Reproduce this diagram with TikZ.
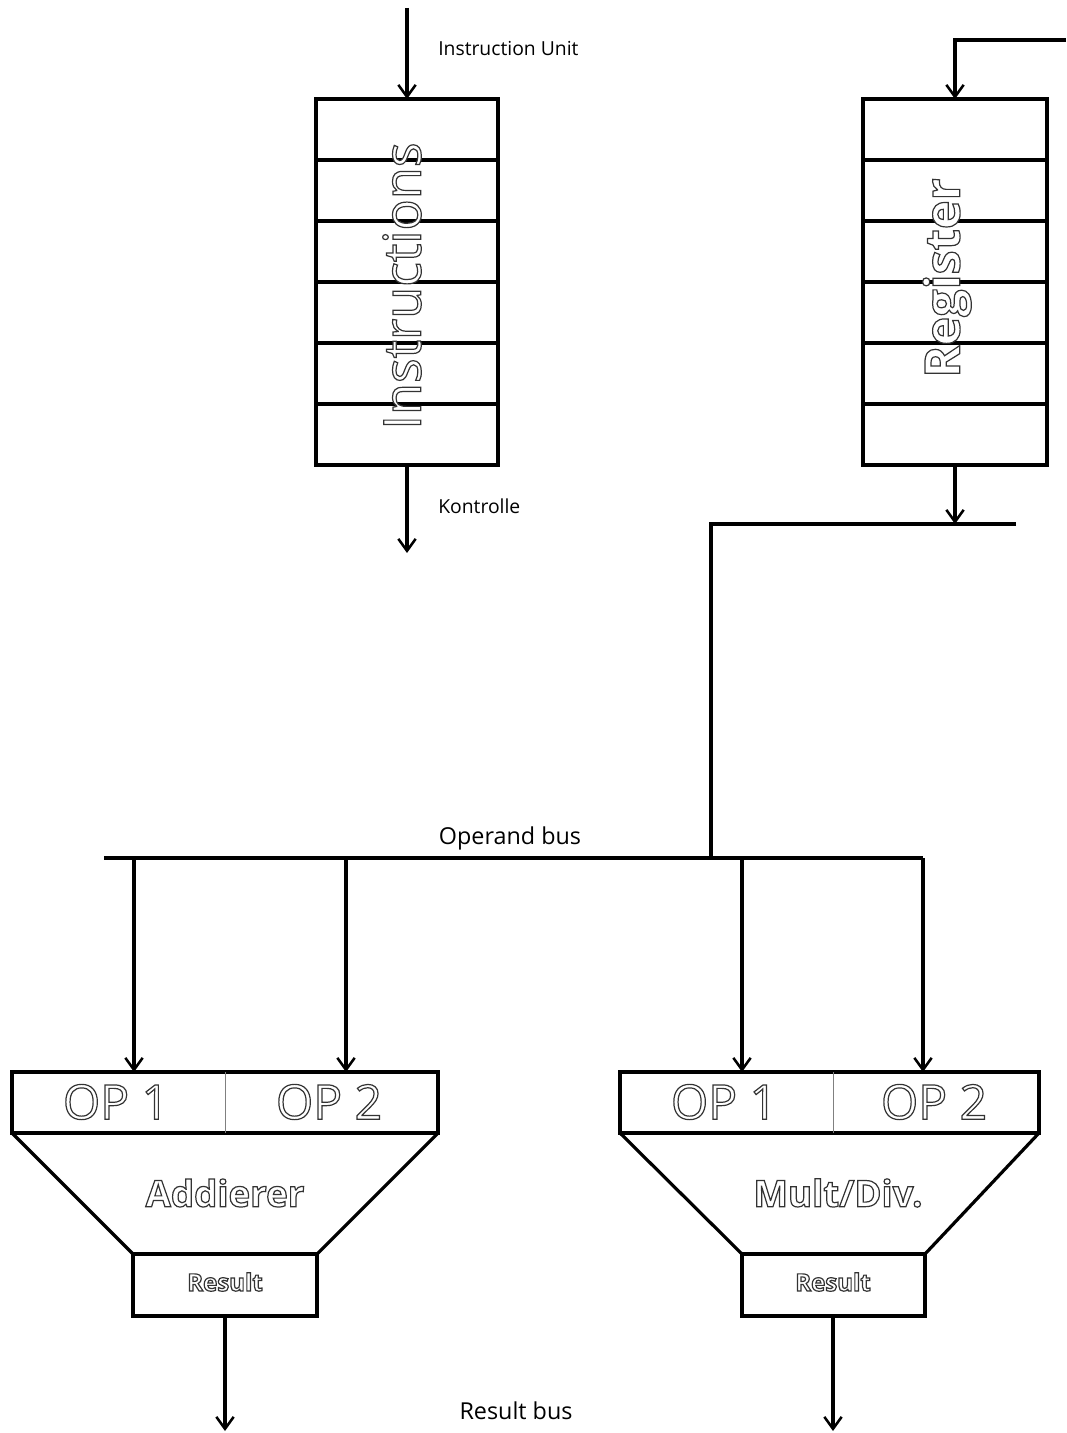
\documentclass[tikz,border=0pt]{standalone}
\usepackage{fontspec}
\setmainfont{Open Sans}
\usetikzlibrary{arrows.meta}
\newcommand{\outl}[1]{\special{pdf:literal direct 2 Tr 0.9 w 1 g 0.2 G}#1\special{pdf:literal direct 0 Tr 0 g 0 G}}
\tikzset{
  px/.style={x=0.75pt,y=-0.75pt},
  wire/.style={line width=2.4pt,line cap=butt},
  arr/.style={wire,-{Straight Barb[length=9pt,width=13pt,line width=1.9pt]}},
  box/.style={line width=2.4pt},
  lbl/.style={font=\fontsize{14.5}{16}\selectfont,anchor=west,inner sep=0pt},
  buslbl/.style={font=\fontsize{17.5}{19}\selectfont,inner sep=0pt},
  big/.style={font=\fontsize{39}{40}\selectfont,inner sep=0pt},
  bigb/.style={font=\fontsize{36.5}{38}\bfseries\selectfont,inner sep=0pt},
  opt/.style={font=\fontsize{36}{38}\selectfont,inner sep=0pt},
  unitt/.style={font=\fontsize{27.5}{30}\bfseries\selectfont,inner sep=0pt},
  rest/.style={font=\fontsize{18}{20}\bfseries\selectfont,inner sep=0pt},
}
\begin{document}
\begin{tikzpicture}[px]
\useasboundingbox (0,0) rectangle (1066,1433);
% instruction queue
\foreach \i in {0,...,5} {
  \draw[box] (316,{99+61*\i}) rectangle (498,{99+61*(\i+1)});
}
\coordinate (iqtop) at (407,99);
\coordinate (iqbot) at (407,465);
\coordinate (iin) at (407,8);
\coordinate (iout) at (407,553);
\draw[arr] (iin) -- (iqtop);
\draw[arr] (iqbot) -- (iout);
\node[lbl] (liu) at (438,49) {Instruction Unit};
\node[lbl] (lk) at (438,506) {Kontrolle};
\node[big,rotate=90] (tinstr) at (402,286) {\outl{Instructions}};
% register
\foreach \i in {0,...,5} {
  \draw[box] (863,{99+61*\i}) rectangle (1047,{99+61*(\i+1)});
}
\coordinate (rtop) at (955,99);
\coordinate (rbot) at (955,465);
\coordinate (rin) at (1066,40);
\coordinate (rinc) at (955,40);
\draw[arr] (rin) -- (rinc) -- (rtop);
\node[bigb,rotate=90] (treg) at (947,278) {\outl{Register}};
\coordinate (rbus) at (955,524);
\coordinate (rbusr) at (1016,524);
\coordinate (rbusl) at (711,524);
\coordinate (obj) at (711,858);
\draw[arr] (rbot) -- (rbus);
\draw[wire] (rbusr) -- (rbusl) -- (obj);
% operand bus
\coordinate (obl) at (104,858);
\coordinate (obr) at (923,858);
\draw[wire] (obl) -- (obr);
\node[buslbl] (lob) at (510,838) {Operand bus};
% adder
\coordinate (a1) at (134,858);
\coordinate (a2) at (346,858);
\coordinate (a1t) at (134,1072);
\coordinate (a2t) at (346,1072);
\draw[arr] (a1) -- (a1t);
\draw[arr] (a2) -- (a2t);
\draw[box] (12,1072) rectangle (438,1133);
\draw[line width=0.7pt,gray] (225,1072) -- (225,1133);
\node[opt] (aop1) at (116,1102) {\outl{OP 1}};
\node[opt] (aop2) at (329,1102) {\outl{OP 2}};
\draw[box,line join=miter] (12,1133) -- (133,1254) -- (317,1254) -- (438,1133);
\node[unitt] (tadd) at (225,1193) {\outl{Addierer}};
\draw[box] (133,1254) rectangle (317,1316);
\node[rest] (ares) at (225,1282) {\outl{Result}};
\coordinate (ao) at (225,1316);
\coordinate (aot) at (225,1431);
\draw[arr] (ao) -- (aot);
% mult/div
\coordinate (m1) at (742,858);
\coordinate (m2) at (923,858);
\coordinate (m1t) at (742,1072);
\coordinate (m2t) at (923,1072);
\draw[arr] (m1) -- (m1t);
\draw[arr] (m2) -- (m2t);
\draw[box] (620,1072) rectangle (1039,1133);
\draw[line width=0.7pt,gray] (833,1072) -- (833,1133);
\node[opt] (mop1) at (724,1102) {\outl{OP 1}};
\node[opt] (mop2) at (934,1102) {\outl{OP 2}};
\draw[box,line join=miter] (620,1133) -- (742,1254) -- (925,1254) -- (1039,1133);
\node[unitt] (tmul) at (838,1193) {\outl{Mult/Div.}};
\draw[box] (742,1254) rectangle (925,1316);
\node[rest] (mres) at (833,1282) {\outl{Result}};
\coordinate (mo) at (833,1316);
\coordinate (mot) at (833,1431);
\draw[arr] (mo) -- (mot);
\node[buslbl] (lrb) at (516,1411) {Result bus};
\end{tikzpicture}
\end{document}
